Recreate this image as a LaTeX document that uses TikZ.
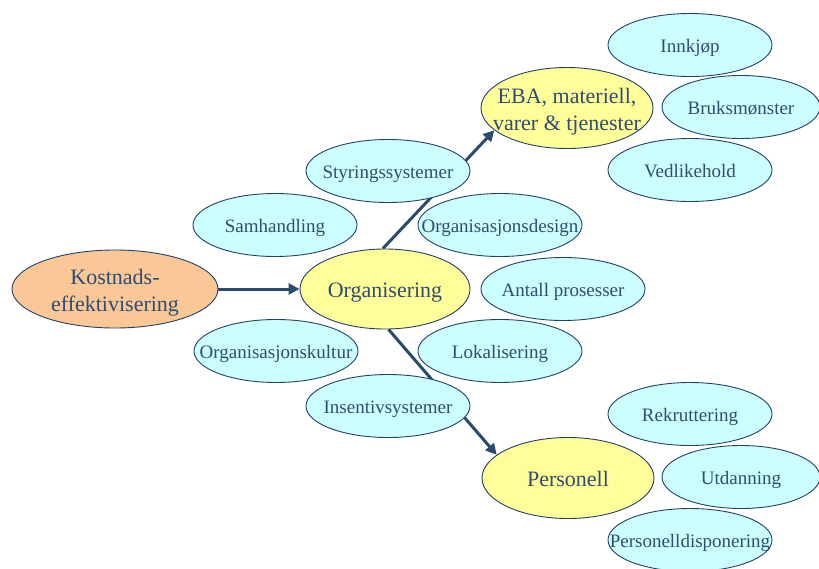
\documentclass[tikz,border=0pt]{standalone}
\usepackage{fontspec}
\setmainfont{Liberation Serif}
\usetikzlibrary{shapes.geometric,arrows.meta}
\pgfdeclarelayer{bg}
\pgfsetlayers{bg,main}
\definecolor{edge}{HTML}{23406A}
\definecolor{ink}{HTML}{2F4C73}
\definecolor{cyanfill}{HTML}{CCFFFF}
\definecolor{yellowfill}{HTML}{FFFF99}
\definecolor{orangefill}{HTML}{FAC896}
\definecolor{arrowcol}{HTML}{2C4A70}
% zero-size labels: the ellipse size comes only from the minimum dimensions,
% and the baseline is placed a fixed distance from the centre
\newcommand{\ztext}[2][7pt]{\makebox[0pt]{\smash{\raisebox{-#1}{#2}}}}
\newcommand{\ztwo}[2]{\makebox[0pt]{\smash{\raisebox{5pt}{\begin{tabular}[t]{@{}c@{}}#1\\[2pt]#2\end{tabular}}}}}
\tikzset{
  oval/.style={ellipse, draw=edge, line width=0.9pt, inner sep=0pt, text=ink},
  leaf/.style={oval, fill=cyanfill, minimum width=164pt, minimum height=63pt, font=\fontsize{19}{22}\selectfont},
  hub/.style={oval, fill=yellowfill, minimum width=172pt, minimum height=81pt, font=\fontsize{22}{25}\selectfont},
  root/.style={oval, fill=orangefill, minimum width=206pt, minimum height=78pt, font=\fontsize{22}{25}\selectfont},
  link/.style={draw=arrowcol, line width=3pt, -{Triangle[length=11pt,width=11pt]}}
}
\begin{document}
\begin{tikzpicture}[x=1pt,y=-1pt]
\begin{pgfonlayer}{bg}
\fill[white] (0,0) rectangle (819,568);
\end{pgfonlayer}
\useasboundingbox (0,0) rectangle (819,568);
% main chain
\node[root] (kost) at (115,289) {\ztwo{Kostnads-}{effektivisering}};
\node[hub, minimum width=170pt, minimum height=80pt] (org) at (385,289) {\ztext[8pt]{Organisering}};
\node[hub] (eba) at (567,108) {\ztwo{EBA, materiell,}{varer \& tjenester}};
\node[hub] (pers) at (568,478) {\ztext[8pt]{Personell}};
% connectors sit beneath the ellipses
\begin{pgfonlayer}{bg}
\draw[link] (kost.east) -- (org.west);
\draw[link] (org.93) -- (eba.197);
\draw[link] (org.-85) -- (pers.162);
\end{pgfonlayer}
% factors around Organisering
\node[leaf] (styr) at (388,171) {\ztext{Styringssystemer}};
\node[leaf] (samh) at (275,225) {\ztext{Samhandling}};
\node[leaf] (odes) at (500,225) {\ztext{Organisasjonsdesign}};
\node[leaf] (antall) at (563,289) {\ztext{Antall prosesser}};
\node[leaf] (okult) at (276,351) {\ztext{Organisasjonskultur}};
\node[leaf] (lok) at (500,351) {\ztext{Lokalisering}};
\node[leaf] (insent) at (388,406) {\ztext{Insentivsystemer}};
% factors around EBA
\node[leaf] (innk) at (690,45) {\ztext{Innkjøp}};
\node[leaf, minimum width=158pt] (bruk) at (741,107) {\ztext{Bruksmønster}};
\node[leaf] (vedl) at (690,170) {\ztext{Vedlikehold}};
% factors around Personell
\node[leaf] (rekr) at (690,414) {\ztext{Rekruttering}};
\node[leaf, minimum width=158pt] (utd) at (741,477) {\ztext{Utdanning}};
\node[leaf] (pdisp) at (690,540) {\ztext{Personelldisponering}};
\end{tikzpicture}
\end{document}
